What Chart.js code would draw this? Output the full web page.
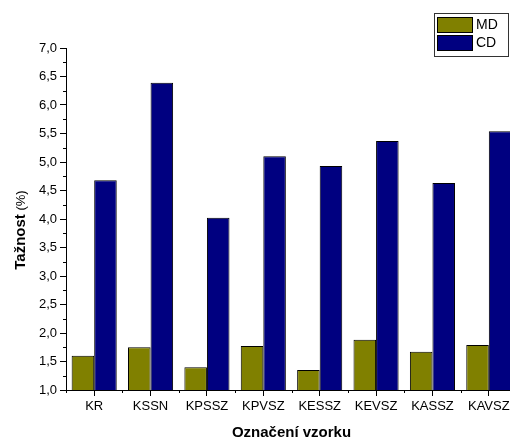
<!DOCTYPE html>
<html>
<head>
<meta charset="utf-8">
<script src="https://cdn.jsdelivr.net/npm/chart.js@4"></script>
<style>
  html, body { margin: 0; padding: 0; background: #fff; overflow: hidden; }
  #wrap { width: 517px; height: 439px; }
</style>
</head>
<body>
<div id="wrap"><canvas id="myChart" width="517" height="439"></canvas></div>
<script>
// vzorky
const vzorky = ['KR', 'KSSN', 'KPSSZ', 'KPVSZ', 'KESSZ', 'KEVSZ', 'KASSZ', 'KAVSZ'];
// tažnost v %, smer MD a CD
const hodnotyMD = [1.60, 1.75, 1.40, 1.77, 1.35, 1.88, 1.67, 1.79];
const hodnotyCD = [4.68, 6.39, 4.02, 5.10, 4.93, 5.37, 4.63, 5.54];
const osaYMin = 1.0;
const osaYMax = 7.0;
const osaYKrok = 0.5;

const pismo = 'Liberation Sans, Arial, sans-serif';

// vedlejsi carky na osach + titulek osy Y (tucne + normalne)
const osyPlugin = {
  id: 'osy',
  afterDraw(chart) {
    const c = chart.ctx;
    const y = chart.scales.y;
    const x = chart.scales.x;
    c.save();
    c.strokeStyle = '#000';
    c.lineWidth = 1;
    c.beginPath();
    for (let v = osaYMin + osaYKrok / 2; v < osaYMax; v += osaYKrok) {
      const py = Math.round(y.getPixelForValue(v)) + 0.5;
      c.moveTo(y.right - 3, py);
      c.lineTo(y.right, py);
    }
    const krok = x.getPixelForValue(1) - x.getPixelForValue(0);
    for (let i = 0; i <= vzorky.length; i++) {
      const px = Math.round(x.getPixelForValue(i) - krok / 2) + 0.5;
      c.moveTo(px, x.top);
      c.lineTo(px, x.top + 3);
    }
    c.stroke();

    // titulek osy Y
    const stred = (chart.chartArea.top + chart.chartArea.bottom) / 2 + 11;
    c.translate(21, stred);
    c.rotate(-Math.PI / 2);
    c.fillStyle = '#000';
    c.textBaseline = 'middle';
    c.font = 'bold 15px ' + pismo;
    const t1 = 'Tažnost';
    const t2 = ' (%)';
    const w1 = c.measureText(t1).width;
    c.font = '13px ' + pismo;
    const w2 = c.measureText(t2).width;
    const start = -(w1 + w2) / 2;
    c.font = 'bold 15px ' + pismo;
    c.textAlign = 'left';
    c.fillText(t1, start, 0);
    c.font = '13px ' + pismo;
    c.fillText(t2, start + w1, 0);
    c.restore();
  }
};

// legenda v ramecku vpravo nahore
const legendaPlugin = {
  id: 'legenda',
  afterDraw(chart) {
    const c = chart.ctx;
    c.save();
    c.fillStyle = '#fff';
    c.fillRect(434, 13, 74, 43);
    c.strokeStyle = '#333';
    c.lineWidth = 1;
    c.strokeRect(434.5, 13.5, 74, 43);
    chart.data.datasets.forEach((ds, i) => {
      const yy = 17 + i * 18;
      c.fillStyle = ds.backgroundColor;
      c.fillRect(437, yy, 35, 15);
      c.strokeStyle = '#000';
      c.strokeRect(437.5, yy + 0.5, 35, 15);
      c.fillStyle = '#000';
      c.font = '14px ' + pismo;
      c.textBaseline = 'middle';
      c.fillText(ds.label, 476, yy + 8);
    });
    c.restore();
  }
};

const ctx = document.getElementById('myChart');

var chart = new Chart(ctx, {
  type: 'bar',
  data: {
    labels: vzorky,
    datasets: [
      {
        label: 'MD',
        data: hodnotyMD,
        backgroundColor: '#808000',
        borderColor: '#000',
        borderWidth: 1,
        borderSkipped: 'bottom'
      },
      {
        label: 'CD',
        data: hodnotyCD,
        backgroundColor: '#000080',
        borderColor: '#000',
        borderWidth: 1,
        borderSkipped: 'bottom'
      }
    ]
  },
  options: {
    responsive: false,
    animation: false,
    categoryPercentage: 0.8,
    barPercentage: 1.0,
    layout: {
      padding: { top: 48, left: 0, right: 0, bottom: 0 }
    },
    plugins: {
      legend: false,
      tooltip: false
    },
    scales: {
      x: {
        grid: {
          offset: false,
          drawOnChartArea: false,
          drawTicks: true,
          tickLength: 6,
          tickColor: '#000'
        },
        border: { color: '#000', width: 1 },
        ticks: {
          color: '#000',
          font: { family: pismo, size: 13 },
          padding: 3,
          maxRotation: 0,
          autoSkip: false
        },
        title: {
          display: true,
          text: 'Označení vzorku',
          color: '#000',
          font: { family: pismo, size: 15, weight: 'bold' },
          padding: { top: 2, bottom: -3 }
        },
        afterFit(scale) { scale.height = 49; }
      },
      y: {
        min: osaYMin,
        max: osaYMax,
        grid: {
          drawOnChartArea: false,
          drawTicks: true,
          tickLength: 6,
          tickColor: '#000'
        },
        border: { color: '#000', width: 1 },
        ticks: {
          stepSize: osaYKrok,
          color: '#000',
          font: { family: pismo, size: 13 },
          padding: 3,
          callback: (v) => v.toFixed(1).replace('.', ',')
        },
        afterFit(scale) { scale.width = 66; }
      }
    }
  },
  plugins: [osyPlugin, legendaPlugin]
});
</script>
</body>
</html>
